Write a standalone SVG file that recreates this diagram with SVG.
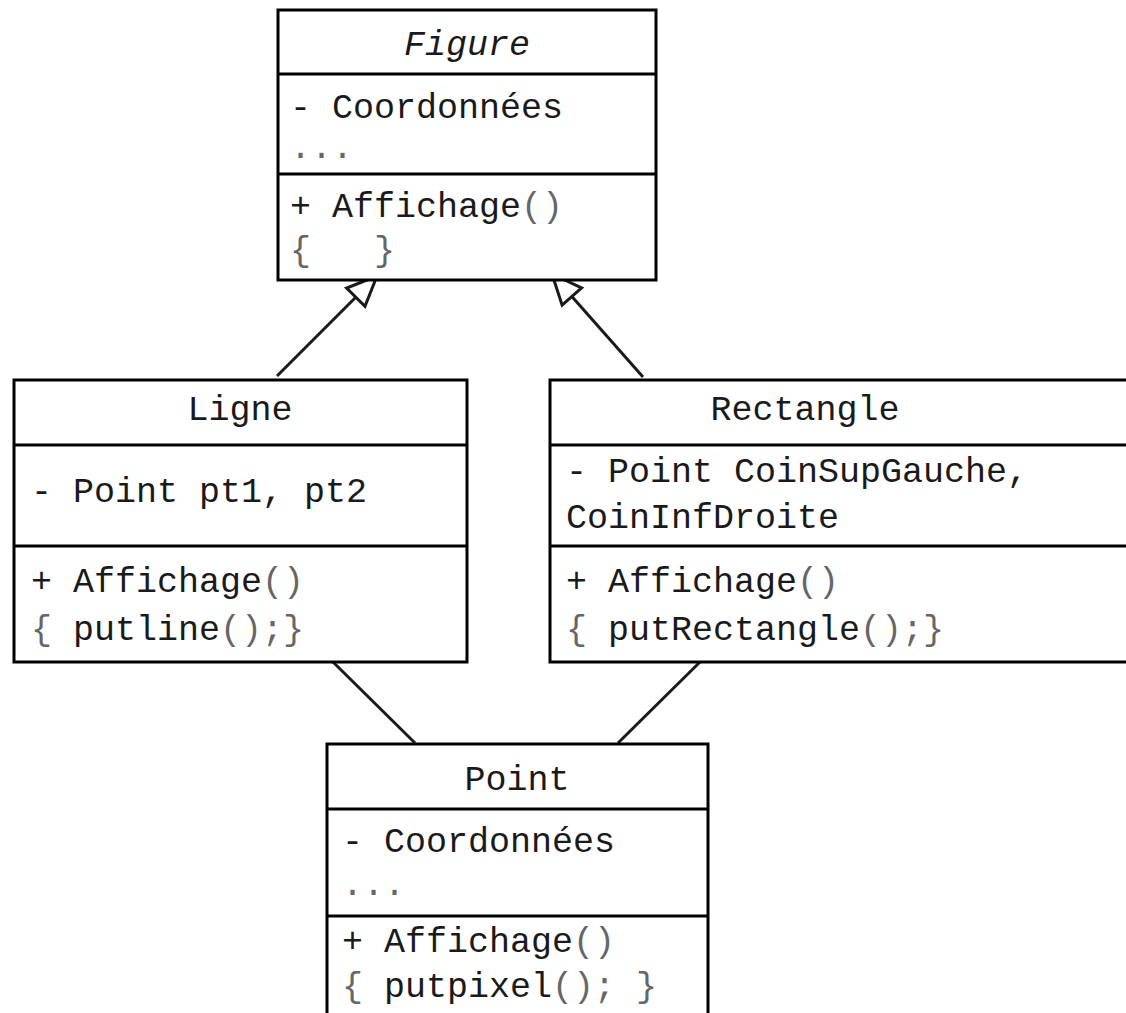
<svg xmlns="http://www.w3.org/2000/svg" width="1126" height="1013" viewBox="0 0 1126 1013">
  <style>
    .box { fill: #ffffff; stroke: #000000; stroke-width: 3; }
    .sep { stroke: #000000; stroke-width: 3; }
    .link { stroke: #1a1a1a; stroke-width: 3; fill: none; }
    .t { font-family: "Liberation Mono", "Courier New", monospace; font-size: 35px; fill: #1a1a1a; white-space: pre; }
    .c { text-anchor: middle; }
    .it { font-style: italic; }
    .lt { fill: #666666; }
  </style>
  <defs>
    <!-- hollow triangle for generalisation -->
    <marker id="gen" markerUnits="userSpaceOnUse" markerWidth="40" markerHeight="32" refX="33" refY="16" orient="auto" viewBox="0 0 40 32">
      <path d="M33,16 L3,3 L3,29 Z" fill="#ffffff" stroke="#1a1a1a" stroke-width="3" stroke-linejoin="miter"/>
    </marker>
  </defs>

  <!-- connectors -->
  <g id="connectors">
    <line class="link" x1="277" y1="376" x2="377" y2="276" marker-end="url(#gen)"/>
    <line class="link" x1="643" y1="377" x2="552" y2="274" marker-end="url(#gen)"/>
    <line class="link" x1="333" y1="662" x2="415" y2="743"/>
    <line class="link" x1="700" y1="662" x2="618" y2="743"/>
  </g>

  <!-- Figure (abstract) -->
  <g id="figure">
    <rect class="box" x="278" y="10" width="378" height="270"/>
    <line class="sep" x1="278" y1="74" x2="656" y2="74"/>
    <line class="sep" x1="278" y1="174" x2="656" y2="174"/>
    <text class="t c it" x="467" y="55">Figure</text>
    <text class="t" x="290" y="118">- Coordonnées</text>
    <text class="t lt" x="290" y="158">...</text>
    <text class="t" x="290" y="217">+ Affichage<tspan class="lt">()</tspan></text>
    <text class="t lt" x="290" y="261" xml:space="preserve">{   }</text>
  </g>

  <!-- Ligne -->
  <g id="ligne">
    <rect class="box" x="14" y="380" width="453" height="282"/>
    <line class="sep" x1="14" y1="445" x2="467" y2="445"/>
    <line class="sep" x1="14" y1="546" x2="467" y2="546"/>
    <text class="t c" x="240" y="420">Ligne</text>
    <text class="t" x="31" y="502">- Point pt1, pt2</text>
    <text class="t" x="31" y="592">+ Affichage<tspan class="lt">()</tspan></text>
    <text class="t" x="31" y="640"><tspan class="lt">{</tspan> putline<tspan class="lt">();}</tspan></text>
  </g>

  <!-- Rectangle -->
  <g id="rectangle">
    <rect class="box" x="550" y="380" width="600" height="282"/>
    <line class="sep" x1="550" y1="445" x2="1150" y2="445"/>
    <line class="sep" x1="550" y1="546" x2="1150" y2="546"/>
    <text class="t c" x="805" y="420">Rectangle</text>
    <text class="t" x="566" y="482">- Point CoinSupGauche,</text>
    <text class="t" x="566" y="528">CoinInfDroite</text>
    <text class="t" x="566" y="592">+ Affichage<tspan class="lt">()</tspan></text>
    <text class="t" x="566" y="640"><tspan class="lt">{</tspan> putRectangle<tspan class="lt">();}</tspan></text>
  </g>

  <!-- Point -->
  <g id="point">
    <rect class="box" x="327" y="744" width="381" height="300"/>
    <line class="sep" x1="327" y1="809" x2="708" y2="809"/>
    <line class="sep" x1="327" y1="916" x2="708" y2="916"/>
    <text class="t c" x="517" y="790">Point</text>
    <text class="t" x="342" y="852">- Coordonnées</text>
    <text class="t lt" x="342" y="895">...</text>
    <text class="t" x="342" y="952">+ Affichage<tspan class="lt">()</tspan></text>
    <text class="t" x="342" y="997"><tspan class="lt">{</tspan> putpixel<tspan class="lt">(); }</tspan></text>
  </g>
</svg>
